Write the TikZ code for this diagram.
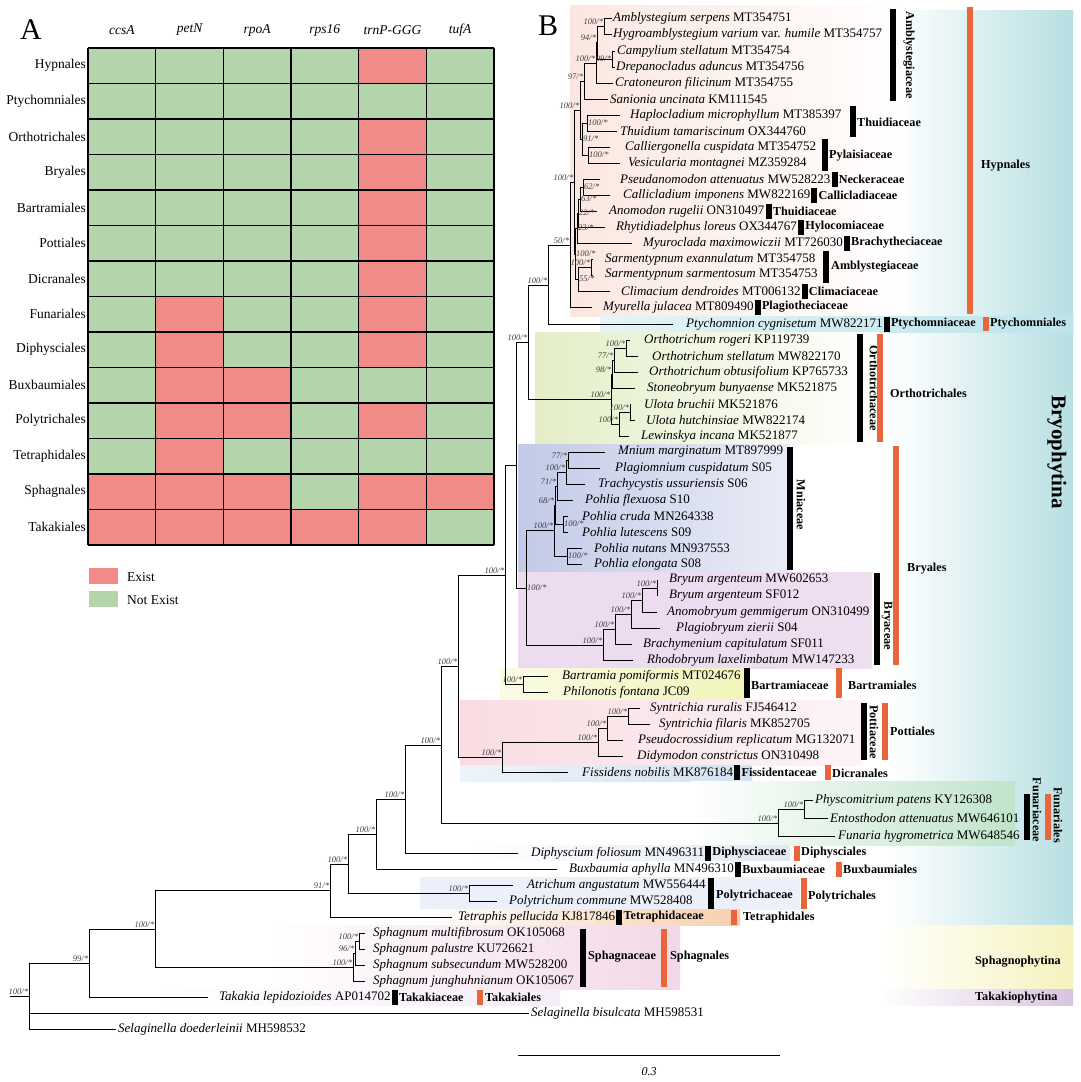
\documentclass[tikz,border=0pt]{standalone}
\usepackage{fontspec}
\setmainfont{Liberation Serif}
\usepackage{tikz}
\usetikzlibrary{positioning}
\definecolor{existred}{HTML}{F08B88}
\definecolor{noexgreen}{HTML}{B4D4AC}
\definecolor{ordorange}{HTML}{E9663B}
\definecolor{bandhyp}{HTML}{F8D3C7}
\definecolor{bandpty}{HTML}{BDE4EC}
\definecolor{bandort}{HTML}{E3EEC6}
\definecolor{bandmni}{HTML}{C2CAE7}
\definecolor{bandbry}{HTML}{D6AEDB}
\definecolor{bandbar}{HTML}{F1F4BA}
\definecolor{bandpot}{HTML}{F1B2BF}
\definecolor{bandfis}{HTML}{D3E2F2}
\definecolor{bandfun}{HTML}{C0E4CA}
\definecolor{banddip}{HTML}{E3E8F5}
\definecolor{bandbux}{HTML}{E0C1E2}
\definecolor{bandpol}{HTML}{BDCDEE}
\definecolor{bandtet}{HTML}{F6D0AF}
\definecolor{bandsph}{HTML}{E3A8CB}
\definecolor{bandtak}{HTML}{DEC2E4}
\definecolor{bandbryo}{HTML}{B7DFE2}
\definecolor{bandsphp}{HTML}{F6F2BE}
\definecolor{bandtakp}{HTML}{DAC3E2}

\begin{document}
\begin{tikzpicture}[x=1pt,y=-1pt,
  br/.style={line width=1pt},
  leaf/.style={anchor=west,inner sep=0pt,font=\fontsize{13}{15}\selectfont},
  sup/.style={anchor=south east,inner sep=0.8pt,text=black!75,font=\fontsize{8.5}{9}\selectfont\itshape},
  supr/.style={anchor=west,inner sep=1pt,text=black!75,font=\fontsize{8.5}{9}\selectfont\itshape},
  supc/.style={sup,anchor=east},
  fam/.style={anchor=west,inner sep=0pt,font=\fontsize{12.2}{13}\selectfont\bfseries},
  famrot/.style={rotate=-90,inner sep=0pt,font=\fontsize{12.2}{13}\selectfont\bfseries},
  hmlab/.style={inner sep=0pt,font=\fontsize{13.5}{15}\selectfont}]
  \useasboundingbox (0,0) rectangle (1080,1082);
  \fill[white] (0,0) rectangle (1080,1082);

  % ---- panel A: gene presence heatmap
  \node[font=\fontsize{30}{30}\selectfont] (pA) at (31,30) {A};
  \fill[noexgreen] (88,48) rectangle (494,545);
  \foreach \r/\c in {1/5,3/5,4/5,5/5,6/5,7/5,8/2,8/5,9/2,9/5,10/2,10/3,
      11/2,11/3,11/5,12/2,13/1,13/2,13/3,13/5,13/6,14/1,14/2,14/3,14/4,14/5}
    \fill[existred] ({88+(\c-1)*67.67},{48+(\r-1)*35.5}) rectangle +(67.67,35.5);
  \foreach \i in {0,...,6}
    \draw[line width=1.3pt] ({88+\i*67.67},48) -- ++(0,497);
  \foreach \i in {0,...,14}
    \draw[line width=1.3pt] (88,{48+\i*35.5}) -- ++(406,0);
  \foreach \c/\g in {1/ccsA,2/petN,3/rpoA,4/rps16,5/trnP-GGG,6/tufA}
    \node[hmlab,font=\fontsize{13.5}{15}\selectfont\itshape] (col\c) at ({88+(\c-0.5)*67.67},30) {\g};
  \foreach \r/\o in {1/Hypnales,2/Ptychomniales,3/Orthotrichales,4/Bryales,5/Bartramiales,
      6/Pottiales,7/Dicranales,8/Funariales,9/Diphysciales,10/Buxbaumiales,
      11/Polytrichales,12/Tetraphidales,13/Sphagnales,14/Takakiales}
    \node[hmlab,anchor=east] (row\r) at (86,{48+(\r-0.5)*35.5}) {\o};
  \fill[existred] (89,568) rectangle (118,584);
  \fill[noexgreen] (89,591) rectangle (118,607);
  \node[hmlab,anchor=west] (legex) at (127,577) {Exist};
  \node[hmlab,anchor=west] (legno) at (127,600) {Not Exist};

  % ---- panel B: clade bands
  \node[font=\fontsize{30}{30}\selectfont] (pB) at (548,26) {B};
  \fill[left color=white,right color=bandbryo] (890,10) rectangle (1073,925);
  \fill[left color=bandhyp!55,middle color=bandhyp,right color=white] (570,5) rectangle (905,316);
  \fill[left color=bandpty!40,right color=bandpty] (600,316) rectangle (1073,332);
  \fill[left color=bandort,right color=white] (535,332) rectangle (880,444);
  \fill[left color=bandmni,right color=bandmni!35] (518,444) rectangle (790,572);
  \fill[left color=bandbry!45,middle color=bandbry,right color=bandbry!40] (518,572) rectangle (872,668);
  \fill[left color=bandbar!40,right color=bandbar] (500,668) rectangle (746,700);
  \fill[left color=bandpot!45,middle color=bandpot,right color=bandpot!15] (460,700) rectangle (862,765);
  \fill[left color=bandfis!40,right color=bandfis] (460,765) rectangle (752,781);
  \fill[left color=white,right color=bandfun] (690,781) rectangle (1015,845);
  \fill[left color=white,right color=banddip] (470,845) rectangle (790,861);
  \fill[left color=white,middle color=bandbux,right color=white] (430,861) rectangle (790,877);
  \fill[left color=bandpol!30,middle color=bandpol,right color=bandpol!30] (420,877) rectangle (800,909);
  \fill[left color=white,right color=bandtet] (420,909) rectangle (740,925);
  \fill[left color=white,middle color=bandsph,right color=bandsph!45] (270,925) rectangle (680,989);
  \fill[left color=white,middle color=bandtak,right color=bandtak!30] (150,989) rectangle (560,1005);
  \fill[left color=white,right color=bandsphp] (880,925) rectangle (1073,989);
  \fill[left color=white,right color=bandtakp] (880,989) rectangle (1073,1005);

  % ---- leaves: name/tip x/label x/y/text
  \foreach \n/\tx/\lx/\y/\t in {
    L1/612/613/18/{\textit{Amblystegium serpens} MT354751},
    L2/612/613/34/{\textit{Hygroamblystegium varium} var. \textit{humile} MT354757},
    L3/615/617/51/{\textit{Campylium stellatum} MT354754},
    L4/615/616/67/{\textit{Drepanocladus aduncus} MT354756},
    L5/613/615/83/{\textit{Cratoneuron filicinum} MT354755},
    L6/608/610/99/{\textit{Sanionia uncinata} KM111545},
    L7/620/630/115/{\textit{Haplocladium microphyllum} MT385397},
    L8/617/620/131/{\textit{Thuidium tamariscinum} OX344760},
    L9/610/625/147/{\textit{Calliergonella cuspidata} MT354752},
    L10/620/628/163/{\textit{Vesicularia montagnei} MZ359284},
    L11/600/620/179/{\textit{Pseudanomodon attenuatus} MW528223},
    L12/610/623/195/{\textit{Callicladium imponens} MW822169},
    L13/597/609/211/{\textit{Anomodon rugelii} ON310497},
    L14/605/616/227/{\textit{Rhytidiadelphus loreus} OX344767},
    L15/632/643/243/{\textit{Myuroclada maximowiczii} MT726030},
    L16/593/605/259/{\textit{Sarmentypnum exannulatum} MT354758},
    L17/593/605/275/{\textit{Sarmentypnum sarmentosum} MT354753},
    L18/610/621/291/{\textit{Climacium dendroides} MT006132},
    L19/592/603/307/{\textit{Myurella julacea} MT809490},
    L20/673/686/324/{\textit{Ptychomnion cygnisetum} MW822171},
    L21/630/644/340/{\textit{Orthotrichum rogeri} KP119739},
    L22/638/652/356/{\textit{Orthotrichum stellatum} MW822170},
    L23/638/649/372/{\textit{Orthotrichum obtusifolium} KP765733},
    L24/635/647/388/{\textit{Stoneobryum bunyaense} MK521875},
    L25/630/644/404/{\textit{Ulota bruchii} MK521876},
    L26/635/646/420/{\textit{Ulota hutchinsiae} MW822174},
    L27/629/641/436/{\textit{Lewinskya incana} MK521877},
    L28/605/618/452/{\textit{Mnium marginatum} MT897999},
    L29/600/615/468/{\textit{Plagiomnium cuspidatum} S05},
    L30/585/598/484/{\textit{Trachycystis ussuriensis} S06},
    L31/573/585/500/{\textit{Pohlia flexuosa} S10},
    L32/568/582/516/{\textit{Pohlia cruda} MN264338},
    L33/568/582/532/{\textit{Pohlia lutescens} S09},
    L34/582/594/548/{\textit{Pohlia nutans} MN937553},
    L35/582/594/564/{\textit{Pohlia elongata} S08},
    L36/657/669/580/{\textit{Bryum argenteum} MW602653},
    L37/657/669/596/{\textit{Bryum argenteum} SF012},
    L38/657/667/612/{\textit{Anomobryum gemmigerum} ON310499},
    L39/660/676/628/{\textit{Plagiobryum zierii} S04},
    L40/632/643/644/{\textit{Brachymenium capitulatum} SF011},
    L41/633/647/660/{\textit{Rhodobryum laxelimbatum} MW147233},
    L42/548/562/676/{\textit{Bartramia pomiformis} MT024676},
    L43/548/563/692/{\textit{Philonotis fontana} JC09},
    L44/640/650/708/{\textit{Syntrichia ruralis} FJ546412},
    L45/650/659/724/{\textit{Syntrichia filaris} MK852705},
    L46/623/638/740/{\textit{Pseudocrossidium replicatum} MG132071},
    L47/623/637/756/{\textit{Didymodon constrictus} ON310498},
    L48/568/582/772/{\textit{Fissidens nobilis} MK876184},
    L49/813/815/800/{\textit{Physcomitrium patens} KY126308},
    L50/828/830/818/{\textit{Entosthodon attenuatus} MW646101},
    L51/835/838/836/{\textit{Funaria hygrometrica} MW648546},
    L52/518/531/853/{\textit{Diphyscium foliosum} MN496311},
    L53/557/569/869/{\textit{Buxbaumia aphylla} MN496310},
    L54/513/527/885/{\textit{Atrichum angustatum} MW556444},
    L55/497/509/901/{\textit{Polytrichum commune} MW528408},
    L56/452/458/917/{\textit{Tetraphis pellucida} KJ817846},
    L57/365/373/933/{\textit{Sphagnum multifibrosum} OK105068},
    L58/365/373/949/{\textit{Sphagnum palustre} KU726621},
    L59/365/373/965/{\textit{Sphagnum subsecundum} MW528200},
    L60/365/373/981/{\textit{Sphagnum junghuhnianum} OK105067},
    L61/208/219/997/{\textit{Takakia lepidozioides} AP014702},
    L62/529/531/1013/{\textit{Selaginella bisulcata} MH598531},
    L63/116/118/1029/{\textit{Selaginella doederleinii} MH598532}}
  {
    \coordinate (\n) at (\tx,\y);
    \node[leaf] (t\n) at (\lx,\y) {\t};
  }

  % ---- internal nodes
  \foreach \n/\x/\y in {h1/604/26,h2/612/59,h3/597/42,h4/596/63,h5/584/81,
      h6/587/123,h7/588/155,h8/582/139,h9/580/110,
      y1/583/187,y2/580/199,y3/578/213,y4/577/228,y5/591/267,y6/578/279,y7/575/254,
      nX/574/182,n50/570/245,nP/548/285,
      o1/626/348,o2/614/360,o3/612/374,o4/630/412,o5/619/424,o6/611/399,nQ/528/342,
      m1/568/460,m2/566/472,m3/557/486,m4/563/524,m5/555/505,m6/567/556,m7/554/530,
      b1/657/588,b2/642/600,b3/631/614,b4/615/629,b5/603/645,nB/526/588,nR/516/465,
      ba/523/684,nS/505/575,p1/628/716,p2/607/728,p3/598/742,nU/502/757,nT/458/666,
      f1/804/809,nF/778/823,nV/441/745,nW/405/799,nXb/376/834,pt/469/893,
      nZa/348/864,nZb/330/890,s1/359/941,s2/355/953,s3/353/967,
      nZc/155/929,nZd/89/963,root/29/996}
    \coordinate (\n) at (\x,\y);
  \coordinate (stub) at (10,996);

  % ---- branches
  \foreach \p/\c in {h1/L1,h1/L2,h2/L3,h2/L4,h3/h1,h3/h2,h4/h3,h4/L5,h5/h4,h5/L6,
      h6/L7,h6/L8,h7/L9,h7/L10,h8/h6,h8/h7,h9/h5,h9/h8,
      y1/L11,y1/L12,y2/y1,y2/L13,y3/y2,y3/L14,y4/y3,y4/L15,y5/L16,y5/L17,
      y6/y5,y6/L18,y7/y4,y7/y6,nX/h9,nX/y7,n50/nX,n50/L19,nP/n50,nP/L20,
      o1/L21,o1/L22,o2/o1,o2/L23,o3/o2,o3/L24,o4/L25,o4/L26,o5/o4,o5/L27,
      o6/o3,o6/o5,nQ/nP,nQ/o6,
      m1/L28,m1/L29,m2/m1,m2/L30,m3/m2,m3/L31,m4/L32,m4/L33,m5/m3,m5/m4,
      m6/L34,m6/L35,m7/m5,m7/m6,
      b1/L36,b1/L37,b2/b1,b2/L38,b3/b2,b3/L39,b4/b3,b4/L40,b5/b4,b5/L41,
      nB/m7,nB/b5,nR/nQ,nR/nB,ba/L42,ba/L43,nS/nR,nS/ba,
      p1/L44,p1/L45,p2/p1,p2/L46,p3/p2,p3/L47,nU/p3,nU/L48,nT/nS,nT/nU,
      f1/L49,f1/L50,nF/f1,nF/L51,nV/nT,nV/nF,nW/nV,nW/L52,nXb/nW,nXb/L53,
      pt/L54,pt/L55,nZa/nXb,nZa/pt,nZb/nZa,nZb/L56,
      s1/L57,s1/L58,s2/s1,s2/L59,s3/s2,s3/L60,nZc/nZb,nZc/s3,
      nZd/nZc,nZd/L61,root/nZd,root/L62,root/L63}
    \draw[br] (\p) |- (\c);
  \draw[br] (stub) -- (root);

  % ---- support values
  \foreach \n/\v in {h1/100,h3/94,h4/100,h5/97,h9/100,y5/100,nX/100,n50/50,nP/100,
      o1/100,o2/77,o3/98,o4/100,o5/100,o6/100,nQ/100,
      m1/77,m2/100,m3/71,m5/68,m7/100,b1/100,b2/100,b3/100,b4/100,b5/100,
      ba/100,nS/100,p1/100,p2/100,p3/100,nU/100,nT/100,f1/100,nF/100,nV/100,
      nW/100,nXb/100,pt/100,nZa/100,nZb/91,s1/100,s2/96,s3/100,nZc/100,nZd/99,root/100}
    \node[sup] (sv\n) at (\n) {\v/*};
  \foreach \n/\v in {h6/100,h7/100,h8/91,y1/62,y2/63,y3/22,y4/23,y6/55,y7/100,
      m4/100,m6/100,nB/100}
    \node[supr] (sv\n) at (\n) {\v/*};
  \node[supc] (svh2) at (h2) {99/*};

  % ---- family bars (black), clades of several leaves
  \foreach \x/\ya/\yb in {890/9/101,850/106/137,822/139/171,823/251/283,
      857/334/442,787/447/570,874/573/665,744/668/698,861/703/760,
      1024/794/840,708/878/909,580/929/987}
    \fill[black] (\x,\ya) rectangle ++(6,\yb-\ya);
  \foreach \n/\x/\y/\t in {fa2/857/122/Thuidiaceae,fa3/829/156/Pylaisiaceae,
      fa9/831/267/Amblystegiaceae,fa16/751/685/Bartramiaceae,
      fa22/716/896/Polytrichaceae,fa24/588/957/Sphagnaceae}
    \node[fam] (\n) at (\x,\y) {\t};
  \foreach \n/\x/\y/\t in {fa1/909/55/Amblystegiaceae,fa13/874/388/Orthotrichaceae,
      fa14/801/505/Mniaceae,fa15/887/626/Bryaceae,fa17/874/732/Pottiaceae,
      fa19/1037/810/Funariaceae}
    \node[famrot] (\n) at (\x,\y) {\t};
  % single leaf families, right after the leaf label
  \foreach \l/\n/\t in {L11/fa4/Neckeraceae,L12/fa5/Callicladiaceae,L13/fa6/Thuidiaceae,
      L14/fa7/Hylocomiaceae,L15/fa8/Brachytheciaceae,L18/fa10/Climaciaceae,
      L19/fa11/Plagiotheciaceae,L20/fa12/Ptychomniaceae,L48/fa18/Fissidentaceae,
      L52/fa20/Diphysciaceae,L53/fa21/Buxbaumiaceae,L56/fa23/Tetraphidaceae,
      L61/fa25/Takakiaceae}
  {
    \fill[black] ([xshift=1pt,yshift=7.5pt]t\l.east) rectangle ++(6,15);
    \node[fam,right=8pt of t\l] (\n) {\t};
  }

  % ---- order bars (orange)
  \foreach \x/\ya/\yb in {967/7/314,983/317/331,877/334/442,893/446/665,836/668/698,
      882/703/760,825/765/780,1045/794/840,794/846/861,836/862/877,801/878/909,
      731/910/925,661/929/987,477/990/1005}
    \fill[ordorange] (\x,\ya) rectangle ++(6,\yb-\ya);
  \foreach \n/\x/\y/\t in {or1/981/166/Hypnales,or2/990/324/Ptychomniales,
      or3/890/393/Orthotrichales,or4/907/569/Bryales,or5/848/685/Bartramiales,
      or6/890/731/Pottiales,or7/832/773/Dicranales,or9/801/853/Diphysciales,
      or10/843/869/Buxbaumiales,or11/808/897/Polytrichales,or12/743/918/Tetraphidales,
      or13/670/957/Sphagnales,or14/485/997/Takakiales}
    \node[fam] (\n) at (\x,\y) {\t};
  \node[famrot] (or8) at (1058,815) {Funariales};

  % ---- subdivisions
  \node[famrot,font=\fontsize{21}{22}\selectfont\bfseries] (dBryo) at (1057,452) {Bryophytina};
  \node[fam] (dSph) at (975,962) {Sphagnophytina};
  \node[fam] (dTak) at (975,998) {Takakiophytina};

  % ---- scale bar
  \coordinate (sbA) at (518,1055);
  \coordinate (sbB) at (780,1055);
  \draw[line width=0.8pt] (sbA) -- (sbB);
  \node[inner sep=0pt,font=\fontsize{12}{13}\selectfont\itshape] (sbL) at (649,1072) {0.3};
\end{tikzpicture}
\end{document}
